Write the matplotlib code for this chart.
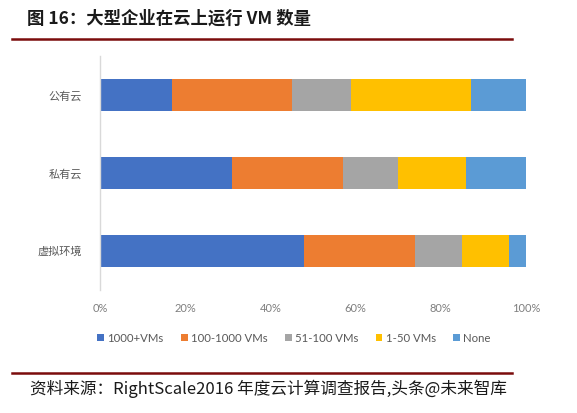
import matplotlib
matplotlib.use("Agg")
import matplotlib.pyplot as plt
from matplotlib.lines import Line2D
import numpy as np

plt.rcParams['font.family'] = ['Lato', 'Noto Sans CJK SC', 'DejaVu Sans']

categories = ['公有云', '私有云', '虚拟环境']
series_names = ['1000+VMs', '100-1000 VMs', '51-100 VMs', '1-50 VMs', 'None']
values = {
    '1000+VMs':     [17, 31, 48],
    '100-1000 VMs': [28, 26, 26],
    '51-100 VMs':   [14, 13, 11],
    '1-50 VMs':     [28, 16, 11],
    'None':         [13, 14, 4],
}
colors = ['#4472C4', '#ED7D31', '#A5A5A5', '#FFC000', '#5B9BD5']
xticks = [0, 20, 40, 60, 80, 100]
xtick_labels = ['0%', '20%', '40%', '60%', '80%', '100%']

W, H = 577, 413
fig = plt.figure(figsize=(W / 100, H / 100), dpi=100)
ax = fig.add_axes([100 / W, 1 - 290 / H, 426 / W, 234 / H])

y = np.arange(len(categories))
left = np.zeros(len(categories))
for name, c in zip(series_names, colors):
    v = np.array(values[name], dtype=float)
    ax.barh(y, v, left=left, height=0.4, color=c, label=name)
    left += v

ax.set_xlim(0, 100)
ax.set_ylim(len(categories) - 0.5, -0.5)
ax.set_yticks(y)
ax.set_yticklabels(categories, fontsize=8, color='#595959', family=['Noto Sans CJK SC'])
ax.set_xticks(xticks)
ax.set_xticklabels(xtick_labels, fontsize=8, color='#7f7f7f')
ax.tick_params(axis='both', length=0)
ax.tick_params(axis='y', pad=13)
ax.tick_params(axis='x', pad=9)
for s in ['top', 'right', 'bottom']:
    ax.spines[s].set_visible(False)
ax.spines['left'].set_color('#d9d9d9')
ax.spines['left'].set_linewidth(1)

fig.legend(loc='center', bbox_to_anchor=(294 / W, 1 - 338 / H), ncol=5,
           frameon=False, fontsize=8.2, handlelength=0.6, handleheight=0.6,
           handletextpad=0.3, columnspacing=1.5, labelcolor='#595959')

# Title and rules
fig.text(27 / W, 1 - 19 / H, '图 16：大型企业在云上运行 VM 数量', fontsize=12.5, fontweight='heavy',
         va='center', ha='left', family=['Noto Sans CJK SC'], color='#1a1a1a')
fig.add_artist(Line2D([12 / W, 512 / W], [1 - 39 / H, 1 - 39 / H], color='#7b0c0c', lw=1.8,
                      transform=fig.transFigure))
fig.add_artist(Line2D([12 / W, 512 / W], [1 - 373 / H, 1 - 373 / H], color='#7b0c0c', lw=1.8,
                      transform=fig.transFigure))
fig.text(30 / W, 1 - 389 / H, '资料来源：RightScale2016 年度云计算调查报告,头条@未来智库', fontsize=12,
         style='italic', va='center', ha='left', family=['Noto Sans CJK SC', 'DejaVu Sans'], color='#1a1a1a')

fig.savefig('out.png', dpi=100)
